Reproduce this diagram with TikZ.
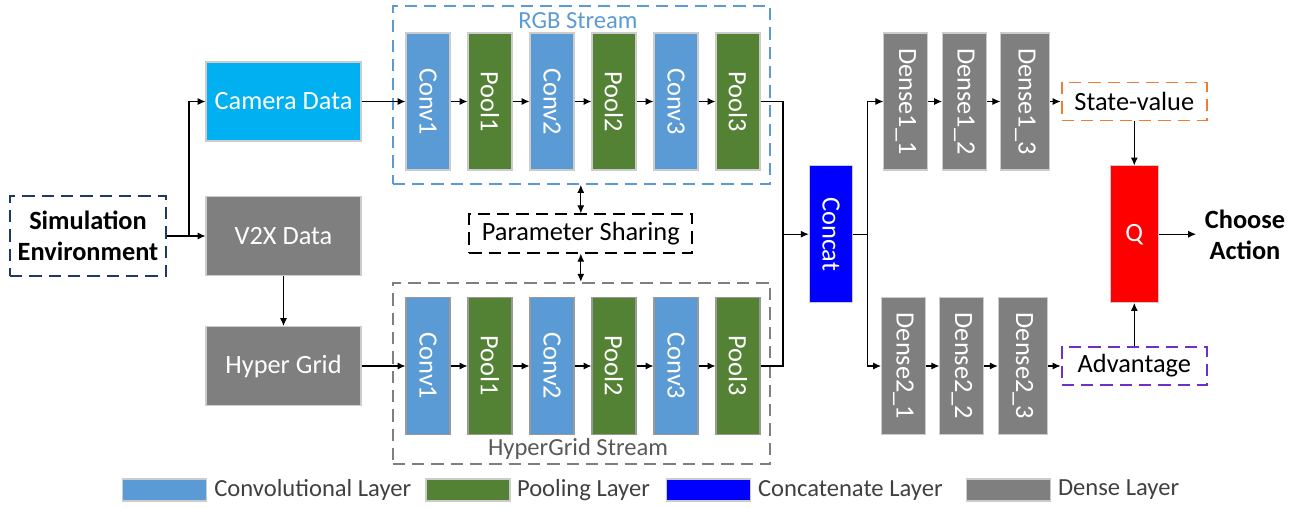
\documentclass[tikz,border=0pt]{standalone}
\usepackage{fontspec}
\setmainfont{Carlito}
\usetikzlibrary{arrows.meta}
\definecolor{convazul}{HTML}{5B9BD5}
\definecolor{poolverde}{HTML}{548235}
\definecolor{densegris}{HTML}{7F7F7F}
\definecolor{camcian}{HTML}{00B0F0}
\definecolor{simmarino}{HTML}{203864}
\definecolor{svnaranja}{HTML}{ED7D31}
\definecolor{advmorado}{HTML}{7030C8}
\definecolor{leyenda}{HTML}{404040}

\begin{document}
\begin{tikzpicture}[x=0.02cm, y=-0.02cm, % 1 unidad = 1 pixel
  font=\fontsize{15pt}{18pt}\selectfont,
  capa/.style={draw=black!20, line width=0.6pt, text=white, inner sep=1pt,
    minimum width=0.88cm, minimum height=2.74cm},
  conv/.style={capa, fill=convazul},
  pool/.style={capa, fill=poolverde},
  densa/.style={capa, fill=densegris},
  dato/.style={draw=black!20, line width=0.6pt, text=white,
    minimum width=3.1cm, minimum height=1.58cm},
  caja/.style={draw, line width=1.1pt, dash pattern=on 7pt off 4pt, inner sep=2pt},
  flecha/.style={-{Latex[length=4.5pt,width=4pt]}, line width=0.6pt},
  doble/.style={{Latex[length=4.5pt,width=4pt]}-{Latex[length=4.5pt,width=4pt]}, line width=0.6pt},
  linea/.style={line width=0.6pt},
  ley/.style={draw=black!20, line width=0.6pt, minimum width=1.68cm, minimum height=0.44cm},
  leytxt/.style={anchor=west, inner sep=0pt, text=leyenda, font=\fontsize{14pt}{16pt}\selectfont}
]
    \useasboundingbox (0,0) rectangle (1301,507); % Margenes

    % Entradas
    \node[caja, draw=simmarino, minimum width=3.12cm, minimum height=1.6cm, align=center,
      font=\fontsize{15pt}{18pt}\selectfont\bfseries] (sim) at (88,236) {Simulation\\Environment};
    \node[dato, fill=camcian] (cam) at (283.5,101.5) {Camera Data};
    \node[dato, fill=densegris] (v2x) at (283.5,236) {V2X Data};
    \node[dato, fill=densegris] (hyp) at (283.5,366) {Hyper Grid};

    % Flujo RGB
    \node[caja, draw=convazul, minimum width=7.55cm, minimum height=3.56cm] (rgb) at (581.4,95) {};
    \node[text=convazul, font=\fontsize{14pt}{16pt}\selectfont] (rgbtxt) at (578,21) {RGB Stream};
    \node[conv] (rc1) at (428,101.5) {\rotatebox{-90}{Conv1}};
    \node[pool] (rp1) at (490,101.5) {\rotatebox{-90}{Pool1}};
    \node[conv] (rc2) at (552,101.5) {\rotatebox{-90}{Conv2}};
    \node[pool] (rp2) at (614,101.5) {\rotatebox{-90}{Pool2}};
    \node[conv] (rc3) at (676,101.5) {\rotatebox{-90}{Conv3}};
    \node[pool] (rp3) at (738,101.5) {\rotatebox{-90}{Pool3}};

    % Flujo HyperGrid
    \node[caja, draw=densegris, minimum width=7.55cm, minimum height=3.63cm] (hg) at (581.4,373.4) {};
    \node[text=black!65, font=\fontsize{14pt}{16pt}\selectfont] (hgtxt) at (578,449) {HyperGrid Stream};
    \node[conv, draw=black!40] (hc1) at (428,366) {\rotatebox{-90}{Conv1}};
    \node[pool, draw=black!40] (hp1) at (490,366) {\rotatebox{-90}{Pool1}};
    \node[conv, draw=black!40] (hc2) at (552,366) {\rotatebox{-90}{Conv2}};
    \node[pool, draw=black!40] (hp2) at (614,366) {\rotatebox{-90}{Pool2}};
    \node[conv, draw=black!40] (hc3) at (676,366) {\rotatebox{-90}{Conv3}};
    \node[pool, draw=black!40] (hp3) at (738,366) {\rotatebox{-90}{Pool3}};

    \node[caja, draw=black, minimum width=4.46cm, minimum height=0.77cm] (ps) at (580.8,233.5) {Parameter Sharing};

    % Parte densa
    \node[capa, fill=blue, minimum width=0.87cm, minimum height=2.73cm] (cat) at (831,234.2) {\rotatebox{-90}{Concat}};
    \node[densa] (d11) at (905.8,101.5) {\rotatebox{-90}{Dense1\_1}};
    \node[densa] (d12) at (964.5,101.5) {\rotatebox{-90}{Dense1\_2}};
    \node[densa, minimum width=0.98cm] (d13) at (1025.3,101.5) {\rotatebox{-90}{Dense1\_3}};
    \node[densa] (d21) at (903.5,366) {\rotatebox{-90}{Dense2\_1}};
    \node[densa] (d22) at (961.8,366) {\rotatebox{-90}{Dense2\_2}};
    \node[densa, minimum width=0.98cm] (d23) at (1022.8,366) {\rotatebox{-90}{Dense2\_3}};
    \node[caja, draw=svnaranja, minimum width=2.91cm, minimum height=0.76cm] (sv) at (1134.3,101.5) {State-value};
    \node[caja, draw=advmorado, minimum width=2.91cm, minimum height=0.76cm] (adv) at (1134.3,366) {Advantage};
    \node[capa, fill=red, minimum width=0.96cm, minimum height=2.73cm] (q) at (1134.3,234.2) {Q};
    \node[align=center, inner sep=0pt, font=\fontsize{15pt}{18pt}\selectfont\bfseries] (acc) at (1245,235) {Choose\\Action};

    % Conexiones
    \coordinate (bif) at (189,236);
    \draw[flecha] (sim.east) -- (v2x.west);
    \draw[flecha] (bif) |- (cam.west);
    \draw[flecha] (v2x) -- (hyp);
    \draw[flecha] (cam.east) -- (rc1.west);
    \draw[flecha] (hyp.east) -- (hc1.west);
    \draw[flecha] (rc1) -- (rp1);
    \draw[flecha] (rp1) -- (rc2);
    \draw[flecha] (rc2) -- (rp2);
    \draw[flecha] (rp2) -- (rc3);
    \draw[flecha] (rc3) -- (rp3);
    \draw[flecha] (hc1) -- (hp1);
    \draw[flecha] (hp1) -- (hc2);
    \draw[flecha] (hc2) -- (hp2);
    \draw[flecha] (hp2) -- (hc3);
    \draw[flecha] (hc3) -- (hp3);
    \draw[doble] (ps.north) -- (ps.north |- rgb.south);
    \draw[doble] (ps.south) -- (ps.south |- hg.north);
    \coordinate (union) at (783,234.2);
    \draw[linea] (rp3.east) -| (union);
    \draw[linea] (hp3.east) -| (union);
    \draw[flecha] (union) -- (cat.west);
    \coordinate (rama) at (867.3,234.2);
    \draw[linea] (cat.east) -- (rama);
    \draw[flecha] (rama) |- (d11.west);
    \draw[flecha] (rama) |- (d21.west);
    \draw[flecha] (d11) -- (d12);
    \draw[flecha] (d12) -- (d13);
    \draw[flecha] (d13) -- (sv);
    \draw[flecha] (d21) -- (d22);
    \draw[flecha] (d22) -- (d23);
    \draw[flecha] (d23) -- (adv);
    \draw[flecha] (sv) -- (q);
    \draw[flecha] (adv) -- (q);
    \draw[flecha, shorten >=0.17cm] (q.east) -- (q.east -| acc.west);

    % Leyenda
    \node[ley, fill=convazul] (l1) at (164.7,490) {};
    \node[leytxt] (t1) at (214,490) {Convolutional Layer};
    \node[ley, fill=poolverde] (l2) at (468,490) {};
    \node[leytxt] (t2) at (516.7,490) {Pooling Layer};
    \node[ley, fill=blue] (l3) at (708.9,490) {};
    \node[leytxt] (t3) at (757.7,490) {Concatenate Layer};
    \node[ley, fill=densegris] (l4) at (1008.6,490) {};
    \node[leytxt] (t4) at (1057.7,490) {Dense Layer};
\end{tikzpicture}
\end{document}
